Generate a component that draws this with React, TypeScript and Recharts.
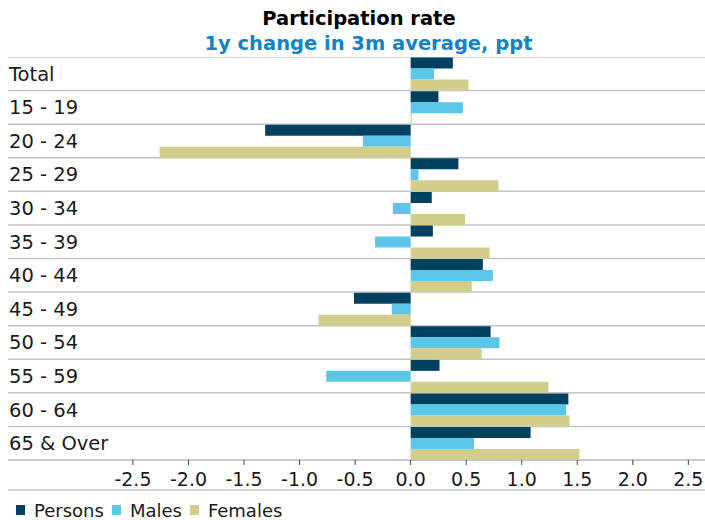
import React from "react";
import { BarChart, Bar, XAxis, YAxis, CartesianGrid, Legend } from "recharts";

const categories = ["Total", "15 - 19", "20 - 24", "25 - 29", "30 - 34", "35 - 39", "40 - 44", "45 - 49", "50 - 54", "55 - 59", "60 - 64", "65 & Over"];
const persons = [0.38, 0.25, -1.31, 0.43, 0.19, 0.2, 0.65, -0.51, 0.72, 0.26, 1.42, 1.08];
const males = [0.21, 0.47, -0.43, 0.07, -0.16, -0.32, 0.74, -0.17, 0.8, -0.76, 1.4, 0.57];
const females = [0.52, 0.01, -2.26, 0.79, 0.49, 0.71, 0.55, -0.83, 0.64, 1.24, 1.43, 1.52];
const xTicks = [-2.5, -2, -1.5, -1, -0.5, 0, 0.5, 1, 1.5, 2, 2.5];
const seriesNames = ["Persons", "Males", "Females"];

const data = categories.map((name, i) => ({
  name,
  Persons: persons[i],
  Males: males[i],
  Females: females[i],
}));

const FONT = "'DejaVu Sans', Verdana, sans-serif";
const TEXT = "#1a1a1a";

// grid lines sit on the category band edges, not the centres
const bandEdges = ({ offset }: any) =>
  Array.from({ length: categories.length + 1 }, (_, i) => offset.top + (i * offset.height) / categories.length);

function LegendContent({ payload }: any) {
  // vertical layout hands the payload over reversed
  const items = [...(payload || [])].sort((a: any, b: any) => seriesNames.indexOf(a.value) - seriesNames.indexOf(b.value));
  return (
    <div style={{ display: "flex", alignItems: "center", height: 20, paddingLeft: 8, fontFamily: FONT, fontSize: 18, color: TEXT }}>
      {items.map((p: any) => (
        <span key={p.value} style={{ display: "flex", alignItems: "center", marginRight: 8 }}>
          <span style={{ width: 9, height: 10, background: p.color, marginRight: 9 }} />
          <span>{p.value}</span>
        </span>
      ))}
    </div>
  );
}

export default function App() {
  return (
    <div style={{ width: 697, height: 512, padding: "8px 0 0 8px", fontFamily: FONT }}>
      <style>{"body{margin:0}"}</style>
      <div style={{ height: 22, lineHeight: "22px", paddingLeft: 5, textAlign: "center", fontWeight: "bold", fontSize: 19.5, color: "#000" }}>
        Participation rate
      </div>
      <div style={{ height: 27, lineHeight: "27px", paddingLeft: 24, textAlign: "center", fontWeight: "bold", fontSize: 19.5, color: "#1383c5" }}>
        1y change in 3m average, ppt
      </div>
      <BarChart
        width={697}
        height={463}
        data={data}
        layout="vertical"
        margin={{ top: 0, right: 0, bottom: 0, left: 0 }}
        barCategoryGap={0.6}
        barGap={0}
      >
        <CartesianGrid vertical={false} stroke="#c4c4c4" strokeWidth={1.5} horizontalCoordinatesGenerator={bandEdges} />
        <XAxis
          type="number"
          domain={[-3.625, 2.65]}
          allowDataOverflow
          ticks={xTicks}
          tickFormatter={(v: number) => v.toFixed(1)}
          height={30}
          tickSize={5}
          tickMargin={8}
          axisLine={{ stroke: "#c4c4c4", strokeWidth: 1.5 }}
          tickLine={{ stroke: "#444" }}
          tick={{ fill: TEXT, fontSize: 19, fontFamily: FONT }}
        />
        <XAxis
          xAxisId="box"
          type="number"
          domain={[-3.625, 2.65]}
          allowDataOverflow
          height={10}
          tick={false}
          tickLine={false}
          axisLine={{ stroke: "#c4c4c4", strokeWidth: 1.5 }}
        />
        <YAxis
          type="category"
          dataKey="name"
          mirror
          width={200}
          tickSize={0}
          tickMargin={1}
          axisLine={false}
          tickLine={false}
          tick={{ fill: TEXT, fontSize: 19.5, fontFamily: FONT, textAnchor: "start" }}
        />
        <Legend verticalAlign="bottom" align="left" height={20} content={<LegendContent />} />
        <Bar dataKey="Persons" fill="#00415f" isAnimationActive={false} />
        <Bar dataKey="Males" fill="#5cc6e8" isAnimationActive={false} />
        <Bar dataKey="Females" fill="#d3cd8b" isAnimationActive={false} />
      </BarChart>
    </div>
  );
}
